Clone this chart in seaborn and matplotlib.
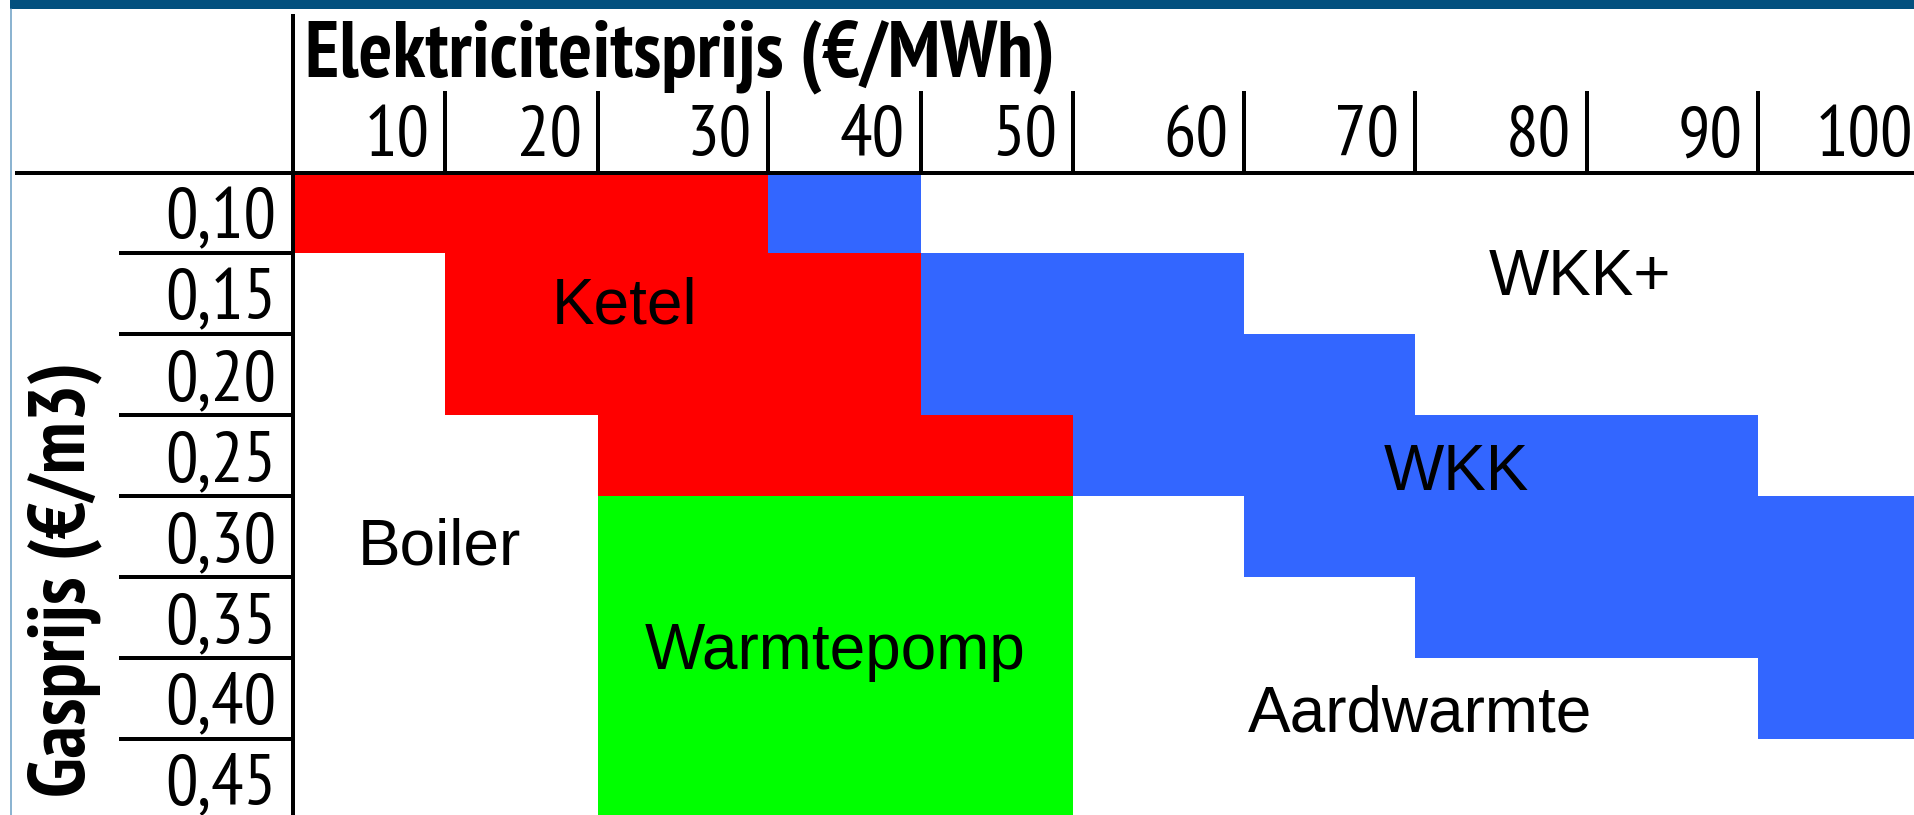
import numpy as np
import pandas as pd
import matplotlib
matplotlib.use("Agg")
import matplotlib.pyplot as plt
import matplotlib.font_manager as fm
from matplotlib.colors import ListedColormap
from matplotlib.lines import Line2D
from matplotlib.patches import Rectangle
from matplotlib.transforms import ScaledTranslation
import seaborn as sns

# ---------------- data ----------------
elec_prices = [10, 20, 30, 40, 50, 60, 70, 80, 90, 100]
gas_prices = ["0,10", "0,15", "0,20", "0,25", "0,30", "0,35", "0,40", "0,45"]

# cheapest technology per (gas price row, electricity price column)
# B = Boiler, K = Ketel, W = WKK, + = WKK+, P = Warmtepomp, A = Aardwarmte
row_010 = ["K", "K", "K", "W", "+", "+", "+", "+", "+", "+"]
row_015 = ["B", "K", "K", "K", "W", "W", "+", "+", "+", "+"]
row_020 = ["B", "K", "K", "K", "W", "W", "W", "+", "+", "+"]
row_025 = ["B", "B", "K", "K", "K", "W", "W", "W", "W", "+"]
row_030 = ["B", "B", "P", "P", "P", "A", "W", "W", "W", "W"]
row_035 = ["B", "B", "P", "P", "P", "A", "A", "W", "W", "W"]
row_040 = ["B", "B", "P", "P", "P", "A", "A", "A", "A", "W"]
row_045 = ["B", "B", "P", "P", "P", "A", "A", "A", "A", "A"]

categories = ["B", "K", "W", "+", "P", "A"]
category_colors = ["#FFFFFF", "#FF0000", "#3366FF", "#FFFFFF", "#00FF00", "#FFFFFF"]

region_names = ["Ketel", "WKK+", "WKK", "Boiler", "Warmtepomp", "Aardwarmte"]

# ---------------- layout (pixels of a 1914x815 canvas) ----------------
W, H = 1914, 815
col_edges_px = np.array([293, 445.3, 597.6, 768.3, 920.5, 1073.2,
                         1244.2, 1415.2, 1587.1, 1758.3, 1929.0])
ax_top_px, ax_bot_px = 172.5, 819.5
region_pos = [(2.16, 1.87), (7.96, 1.52), (7.24, 3.92),
              (0.96, 4.85), (3.44, 6.14), (7.03, 6.91)]

sns.set_theme(style="white")
names = {f.name for f in fm.fontManager.ttflist}


def first_available(cands, default="DejaVu Sans"):
    for c in cands:
        if c in names:
            return c
    return default


NARROW = first_available(["Arial Narrow", "Liberation Sans Narrow", "PT Sans Narrow",
                          "Asap Condensed", "Barlow Semi Condensed", "Archivo Narrow"])
REG = first_available(["Arial", "Liberation Sans", "Arimo"])
plt.rcParams["font.family"] = [REG, "DejaVu Sans"]

fig = plt.figure(figsize=(W / 100, H / 100), dpi=100)
fig.patch.set_facecolor("white")
ax = fig.add_axes([col_edges_px[0] / W, 1 - ax_bot_px / H,
                   (col_edges_px[-1] - col_edges_px[0]) / W,
                   (ax_bot_px - ax_top_px) / H])

rows = [row_010, row_015, row_020, row_025, row_030, row_035, row_040, row_045]
codes = pd.DataFrame([[categories.index(c) for c in r] for r in rows],
                     index=gas_prices, columns=elec_prices)

sns.heatmap(codes, ax=ax, cmap=ListedColormap(category_colors),
            vmin=-0.5, vmax=len(categories) - 0.5, cbar=False,
            linewidths=0, xticklabels=False, yticklabels=False)

# non-uniform column widths through a piecewise linear scale
idx = np.arange(len(col_edges_px))
ax.set_xscale("function",
              functions=(lambda x: np.interp(x, idx, col_edges_px),
                         lambda p: np.interp(p, col_edges_px, idx)))
ax.set_xlim(0, len(elec_prices))
ax.set_ylim(len(gas_prices), 0)

for s in ax.spines.values():
    s.set_visible(False)

LW = 2.88  # 4 px
TICKFONT = [NARROW, "DejaVu Sans"]
# ---- x axis (top) ----
ax.xaxis.tick_top()
ax.set_xticks(np.arange(1, len(elec_prices) + 1))
ax.tick_params(axis="x", which="major", top=True, bottom=False,
               labeltop=True, labelbottom=False, direction="out",
               length=59.4, width=LW, color="black", pad=-47.6,
               labelsize=47, labelcolor="black")
ax.set_xticklabels([str(v) for v in elec_prices], ha="right", va="baseline",
                   fontfamily=TICKFONT)
off = ScaledTranslation(-16 / 100, 0, fig.dpi_scale_trans)
for lbl in ax.get_xticklabels():
    lbl.set_transform(lbl.get_transform() + off)

# ---- y axis (left) ----
ax.set_yticks(np.arange(1, len(gas_prices) + 1))
ax.set_yticklabels([])
ax.set_yticks(np.arange(len(gas_prices)) + 0.5, minor=True)
ax.set_yticklabels(gas_prices, minor=True, fontfamily=TICKFONT)
ax.tick_params(axis="y", which="major", left=True, labelleft=False,
               direction="out", length=125.3, width=LW, color="black")
ax.tick_params(axis="y", which="minor", left=True, labelleft=True,
               length=0, pad=12.2, labelsize=47, labelcolor="black")

# ---- axis titles ----
axw = col_edges_px[-1] - col_edges_px[0]
axh = ax_bot_px - ax_top_px
ax.xaxis.set_label_position("top")
ax.set_xlabel("Elektriciteitsprijs (€/MWh)", fontsize=52, fontweight="bold",
              ha="left", va="baseline", color="black", fontfamily=TICKFONT)
ax.xaxis.set_label_coords((305 - col_edges_px[0]) / axw, (ax_bot_px - 76) / axh)
ax.set_ylabel("Gasprijs (€/m3)", fontsize=52, fontweight="bold",
              ha="center", va="center", color="black", fontfamily=TICKFONT)
ax.yaxis.set_label_coords((65 - col_edges_px[0]) / axw, (ax_bot_px - 579) / axh)

# ---- region labels ----
for name, (cx, cy) in zip(region_names, region_pos):
    ax.text(cx, cy, name, ha="center", va="baseline", fontsize=46,
            color="black", fontfamily=[REG, "DejaVu Sans"])

# ---- frame lines ----
fig.add_artist(Line2D([15 / W, 1], [1 - ax_top_px / H] * 2,
                      transform=fig.transFigure, lw=LW, color="black",
                      solid_capstyle="butt"))
fig.add_artist(Line2D([col_edges_px[0] / W] * 2, [0, 1 - 14 / H],
                      transform=fig.transFigure, lw=LW, color="black",
                      solid_capstyle="butt"))
fig.add_artist(Rectangle((10 / W, 1 - 9 / H), 1, 9 / H,
                         transform=fig.transFigure, color="#03507E", lw=0))
fig.add_artist(Line2D([10.5 / W] * 2, [0, 1 - 9 / H],
                      transform=fig.transFigure, lw=1.1, color="#6A9EC4"))

# ---- fit text sizes to the measured extents of the reference ----
fig.canvas.draw()
rend = fig.canvas.get_renderer()


def fit(t, target, vertical=False):
    bb = t.get_window_extent(rend)
    cur = bb.height if vertical else bb.width
    if cur > 0:
        t.set_fontsize(t.get_fontsize() * target / cur)


fit(ax.xaxis.label, 751)
fit(ax.yaxis.label, 436, vertical=True)
# tick labels: width of "0,15" is ~114 px in the reference
ylbls = ax.get_yticklabels(minor=True)
bb = ylbls[1].get_window_extent(rend)
scale = 114 / bb.width if bb.width > 0 else 1
newsize = min(47 * scale, 52)
for t in ylbls + ax.get_xticklabels():
    t.set_fontsize(newsize)

fig.savefig("out.png", dpi=100)
